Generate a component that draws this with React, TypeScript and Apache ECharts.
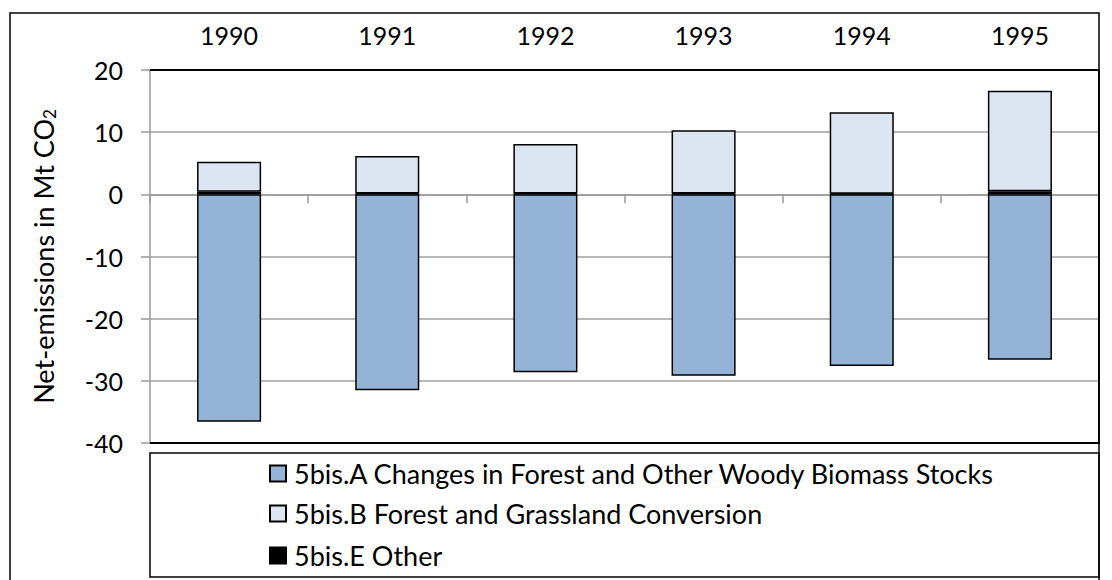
import React, { useEffect, useRef } from "react";
import * as echarts from "echarts";

const years = ["1990", "1991", "1992", "1993", "1994", "1995"];
const seriesNames = [
  "5bis.A Changes in Forest and Other Woody Biomass Stocks",
  "5bis.B Forest and Grassland Conversion",
  "5bis.E Other",
];
const forestStocks = [-36.6, -31.5, -28.6, -29.2, -27.6, -26.6];
const grasslandConversion = [4.85, 6.0, 7.95, 10.15, 13.1, 16.15];
const other = [0.4, 0.15, 0.15, 0.15, 0.1, 0.5];
const yTicks = { min: -40, max: 20, interval: 10 };

const FONT = "Lato, 'Open Sans', sans-serif";

export default function App() {
  const ref = useRef<HTMLDivElement>(null);
  useEffect(() => {
    if (!ref.current) return;
    const chart = echarts.init(ref.current, null, { renderer: "svg" });
    const barStyle = (color: string) => ({
      color,
      borderColor: "#000",
      borderWidth: 1.5,
    });
    const legendTops = [460, 500, 542];
    const legends = seriesNames.map((name, i) => ({
      orient: "vertical",
      left: 269,
      top: legendTops[i],
      padding: 0,
      itemWidth: 16,
      itemHeight: 16,
      icon: "rect",
      data: [name],
      textStyle: {
        fontSize: 27,
        lineHeight: 24,
        color: "#000",
        fontFamily: FONT,
        padding: [0, 0, 0, 3],
      },
    }));
    chart.setOption({
      animation: false,
      backgroundColor: "#fff",
      textStyle: { fontFamily: FONT },
      grid: {
        left: 150,
        top: 70,
        right: 13,
        bottom: 137,
        show: false,
      },
      legend: legends,
      xAxis: [
        {
          type: "category",
          data: years,
          position: "bottom",
          axisLine: { onZero: true, lineStyle: { color: "#9a9a9a", width: 1.5 } },
          axisTick: { show: true, length: 9, interval: 0, lineStyle: { color: "#9a9a9a", width: 1.5 } },
          axisLabel: { show: false },
          splitLine: { show: false },
        },
        {
          type: "category",
          data: years,
          position: "top",
          axisLine: { show: false },
          axisTick: { show: false },
          axisLabel: { fontSize: 25, color: "#000", margin: 23, fontFamily: FONT },
        },
      ],
      yAxis: {
        type: "value",
        min: yTicks.min,
        max: yTicks.max,
        interval: yTicks.interval,
        axisLine: { show: true, lineStyle: { color: "#9a9a9a", width: 1.5 } },
        axisTick: { show: true, length: 9, lineStyle: { color: "#9a9a9a", width: 1.5 } },
        axisLabel: { fontSize: 25, color: "#000", margin: 27, fontFamily: FONT },
        splitLine: { lineStyle: { color: "#a0a0a0", width: 1.5 } },
        name: "Net-emissions in Mt CO{sub|2}",
        nameLocation: "middle",
        nameGap: 92,
        nameTextStyle: {
          fontSize: 27,
          color: "#000",
          fontFamily: FONT,
          rich: {
            sub: { fontSize: 17, color: "#000", fontFamily: FONT, padding: [13, 0, 0, 0] },
          },
        },
      },
      graphic: [
        {
          type: "rect",
          shape: { x: 10, y: 13, width: 1089, height: 620 },
          style: { fill: "none", stroke: "#000", lineWidth: 1.5 },
          silent: true,
          z: 100,
        },
        {
          type: "polyline",
          shape: { points: [[150, 70], [1099, 70], [1099, 443], [150, 443]] },
          style: { fill: "none", stroke: "#000", lineWidth: 2 },
          silent: true,
          z: 100,
        },
        {
          type: "rect",
          shape: { x: 150, y: 453, width: 949, height: 124 },
          style: { fill: "none", stroke: "#000", lineWidth: 1.5 },
          silent: true,
          z: 100,
        },
      ],
      series: [
        {
          name: seriesNames[0],
          type: "bar",
          stack: "total",
          barWidth: "40.5%",
          data: forestStocks,
          itemStyle: barStyle("#95b3d7"),
        },
        {
          name: seriesNames[2],
          type: "bar",
          stack: "total",
          barWidth: "40.5%",
          data: other,
          itemStyle: barStyle("#000000"),
        },
        {
          name: seriesNames[1],
          type: "bar",
          stack: "total",
          barWidth: "40.5%",
          data: grasslandConversion,
          itemStyle: barStyle("#dce6f2"),
        },
      ],
    });
    return () => chart.dispose();
  }, []);
  return (
    <div
      ref={ref}
      style={{ position: "fixed", left: 0, top: 0, width: 1112, height: 580 }}
    />
  );
}
